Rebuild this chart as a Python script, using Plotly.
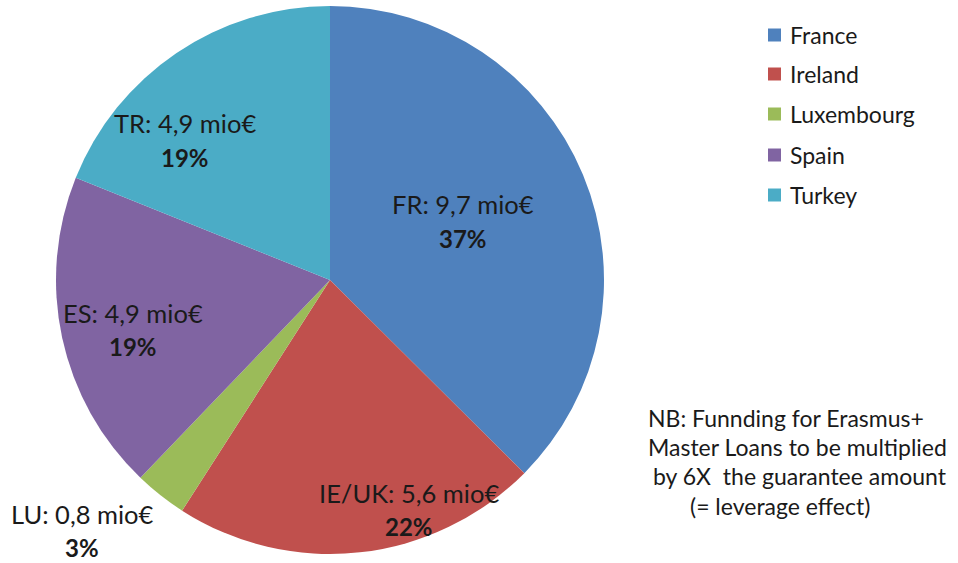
import plotly.graph_objects as go

countries = ["France", "Ireland", "Luxembourg", "Spain", "Turkey"]
codes = ["FR", "IE/UK", "LU", "ES", "TR"]
amounts = [9.7, 5.6, 0.8, 4.9, 4.9]
amount_labels = ["9,7", "5,6", "0,8", "4,9", "4,9"]
colors = ["#4F81BD", "#C0504D", "#9BBB59", "#8064A2", "#4BACC6"]
note_lines = ["NB: Funnding for Erasmus+", "Master Loans to be multiplied",
              "by 6X  the guarantee amount", "(= leverage effect)"]

W, H = 958, 563
FONT = "Lato, Open Sans, sans-serif"
TXT = "#1a1a1a"

def px(x):
    return x / W

def py(y):
    return 1 - y / H

cx, cy, r = 330, 280, 274

fig = go.Figure()
fig.add_trace(go.Pie(
    labels=countries, values=amounts, sort=False, direction="clockwise",
    rotation=0, marker=dict(colors=colors, line=dict(width=0)),
    textinfo="none", hoverinfo="label+value+percent", showlegend=False,
    domain=dict(x=[px(cx - r), px(cx + r)], y=[py(cy + r), py(cy - r)]),
))

total = sum(amounts)
label_pos = [(463, 204, 239), (409, 493, 526), (82, 514, 547), (133, 313, 346), (185, 123, 157)]
annotations = []
for code, amt, val, (lx, ly1, ly2) in zip(codes, amount_labels, amounts, label_pos):
    pct = round(val / total * 100)
    annotations.append(dict(x=px(lx), y=py(ly1), xref="paper", yref="paper",
                            text=f"{code}: {amt} mio€", showarrow=False,
                            font=dict(family=FONT, size=25.5, color=TXT),
                            xanchor="center", yanchor="middle"))
    annotations.append(dict(x=px(lx), y=py(ly2), xref="paper", yref="paper",
                            text=f"<b>{pct}%</b>", showarrow=False,
                            font=dict(family=FONT, size=24, color=TXT),
                            xanchor="center", yanchor="middle"))

# legend (manual)
shapes = []
leg_y = [35, 74, 114, 155, 195]
for name, col, ly in zip(countries, colors, leg_y):
    shapes.append(dict(type="rect", xref="paper", yref="paper",
                       x0=px(768), x1=px(781), y0=py(ly + 6.5), y1=py(ly - 6.5),
                       fillcolor=col, line=dict(width=0)))
    annotations.append(dict(x=px(788), y=py(ly), xref="paper", yref="paper",
                            text=name, showarrow=False, xanchor="left", yanchor="middle",
                            font=dict(family=FONT, size=23, color=TXT)))

note_pos = [(646, 418), (646, 447), (651, 476), (688, 506)]
for line, (nx, ny) in zip(note_lines, note_pos):
    annotations.append(dict(x=px(nx), y=py(ny), xref="paper", yref="paper",
                            text=line, showarrow=False, xanchor="left", yanchor="middle",
                            font=dict(family=FONT, size=23, color=TXT)))

fig.update_layout(
    width=W, height=H, margin=dict(l=0, r=0, t=0, b=0),
    paper_bgcolor="white", plot_bgcolor="white",
    annotations=annotations, shapes=shapes,
)
fig.write_html("out.html", config={"displayModeBar": False},
               post_script="document.body.style.margin='0';")
